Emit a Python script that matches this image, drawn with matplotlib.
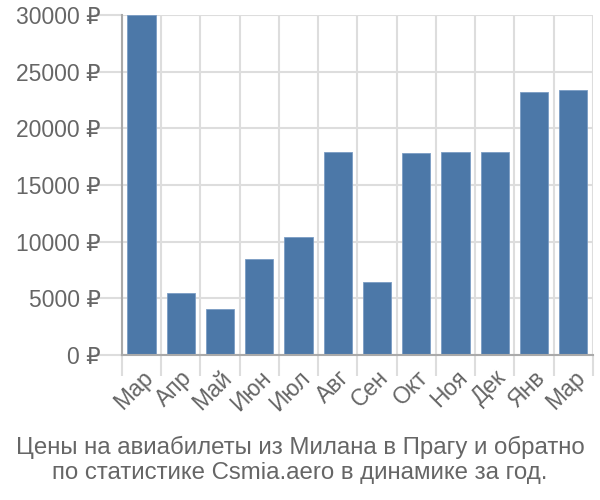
import matplotlib
matplotlib.use("Agg")
import matplotlib.pyplot as plt
import numpy as np

months = ["Мар", "Апр", "Май", "Июн", "Июл", "Авг", "Сен", "Окт", "Ноя", "Дек", "Янв", "Мар"]
prices = [30000, 5450, 4050, 8450, 10400, 17900, 6450, 17800, 17900, 17900, 23200, 23350]
yticks = [0, 5000, 10000, 15000, 20000, 25000, 30000]
title = "Цены на авиабилеты из Милана в Прагу и обратно\nпо статистике Csmia.aero в динамике за год."

plt.rcParams['font.family'] = ['Liberation Sans', 'DejaVu Sans']
txt = '#666666'
grid = '#dddddd'

fig = plt.figure(figsize=(6, 5), dpi=100)
ax = fig.add_axes([0.203, 0.29, 0.785, 0.68])

x = np.arange(len(months))
ax.bar(x, prices, width=0.72, color='#4c78a8', edgecolor='#7a9cc4', linewidth=0.6, zorder=3)

ax.set_xlim(-0.5, len(months) - 0.5)
ax.set_ylim(0, 30000)
ax.set_yticks(yticks)
ax.set_yticklabels([f"{v} ₽" for v in yticks], color=txt, fontsize=16.5)
ax.set_xticks(x)
ax.set_xticklabels(months, rotation=45, ha='right', rotation_mode='anchor', color=txt, fontsize=16.5)
ax.tick_params(axis='x', which='major', length=0, pad=8)
ax.set_xticks(np.arange(-0.5, len(months)), minor=True)
ax.tick_params(axis='x', which='minor', length=15, color=grid, width=1.5)
ax.tick_params(axis='y', length=20, color=grid, width=1.5, pad=-5)

ax.grid(True, axis='y', color=grid, linewidth=1.5, zorder=0)
ax.grid(True, axis='x', which='minor', color=grid, linewidth=1.5, zorder=0)
ax.grid(False, axis='x', which='major')

for s in ['top', 'right']:
    ax.spines[s].set_visible(False)
for s in ['left', 'bottom']:
    ax.spines[s].set_color('#aaaaaa')
    ax.spines[s].set_linewidth(1.5)
    ax.spines[s].set_zorder(4)

fig.text(0.5, 0.08, title, ha='center', va='center', color=txt, fontsize=17.3, linespacing=1.2)

fig.savefig("out.png", dpi=100)
